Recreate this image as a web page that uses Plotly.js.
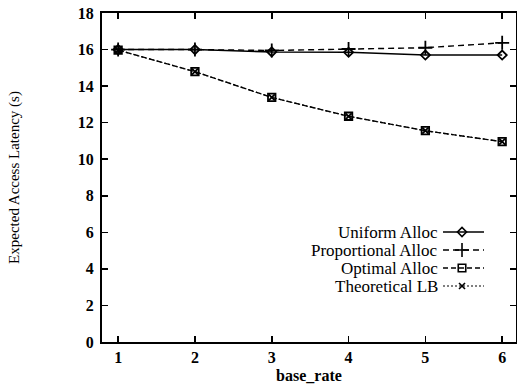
<!DOCTYPE html>
<html>
<head>
<meta charset="utf-8">
<script src="https://cdn.plot.ly/plotly-3.0.1.min.js"></script>
<style>html,body{margin:0;padding:0;background:#fff;}#chart{width:517px;height:389px;}</style>
</head>
<body>
<div id="chart"></div>
<script>
const baseRate = [1, 2, 3, 4, 5, 6];
const uniformAlloc = [16.0, 16.0, 15.87, 15.85, 15.7, 15.7];
const proportionalAlloc = [16.0, 16.0, 15.95, 16.03, 16.1, 16.37];
const optimalAlloc = [15.97, 14.79, 13.38, 12.35, 11.56, 10.96];
const theoreticalLB = [15.97, 14.79, 13.38, 12.35, 11.56, 10.96];
const seriesNames = ["Uniform Alloc", "Proportional Alloc", "Optimal Alloc", "Theoretical LB"];
const yTicks = [0, 2, 4, 6, 8, 10, 12, 14, 16, 18];

const serif = "Liberation Serif, Times New Roman, serif";
const styles = [
  {symbol: "diamond-open", size: 7, dash: "solid", width: 1.6},
  {symbol: "cross-thin-open", size: 10, dash: "6px,4px", width: 1.4},
  {symbol: "square-open", size: 7.5, dash: "5px,3px", width: 1.4},
  {symbol: "x-thin-open", size: 6, dash: "2px,2px", width: 1.2}
];
const series = [uniformAlloc, proportionalAlloc, optimalAlloc, theoreticalLB];

const traces = series.map((ys, i) => ({
  x: baseRate, y: ys, type: "scatter", mode: "lines+markers", name: seriesNames[i],
  line: {color: "black", width: styles[i].width, dash: styles[i].dash},
  marker: {symbol: styles[i].symbol, size: styles[i].size, color: "black",
           line: {color: "black", width: 1.8}},
  showlegend: false, cliponaxis: false
}));

// Legend samples (text on the left, sample on the right) on an overlay 0..1 axis pair
const legX0 = 0.8237, legX1 = 0.9227, legXm = 0.8696;
const legY = [0.3343, 0.2796, 0.2249, 0.1702];
const annotations = [];
series.forEach((ys, i) => {
  traces.push({
    x: [legX0, legX1], y: [legY[i], legY[i]], xaxis: "x2", yaxis: "y2",
    type: "scatter", mode: "lines", hoverinfo: "skip", showlegend: false,
    line: {color: "black", width: styles[i].width, dash: styles[i].dash}
  });
  traces.push({
    x: [legXm], y: [legY[i]], xaxis: "x2", yaxis: "y2",
    type: "scatter", mode: "markers", hoverinfo: "skip", showlegend: false,
    marker: {symbol: styles[i].symbol, size: styles[i].size, color: "black",
             line: {color: "black", width: 1.6}}
  });
  annotations.push({
    text: seriesNames[i], xref: "paper", yref: "paper", x: 0.8164, y: legY[i],
    xanchor: "right", yanchor: "middle", showarrow: false,
    font: {family: serif, size: 17, color: "black"}
  });
});

const axisCommon = {
  showline: true, linecolor: "black", linewidth: 2, mirror: "ticks",
  ticks: "inside", ticklen: 6, tickwidth: 1.5, tickcolor: "black",
  showgrid: false, zeroline: false,
  tickfont: {family: serif, size: 16, color: "black", weight: "bold"}
};

const layout = {
  width: 517, height: 389,
  margin: {l: 102, r: 1, t: 13, b: 47, pad: 0},
  paper_bgcolor: "white", plot_bgcolor: "white",
  showlegend: false,
  xaxis: Object.assign({}, axisCommon, {
    range: [0.79, 6.18], tickvals: baseRate, ticktext: baseRate.map(String),
    title: {text: "base_rate", font: {family: serif, size: 16, color: "black", weight: "bold"}, standoff: 5},
    automargin: false
  }),
  yaxis: Object.assign({}, axisCommon, {
    range: [0, 18], tickvals: yTicks, ticktext: yTicks.map(String), ticklabelstandoff: 3,
    title: {text: "Expected Access Latency (s)", font: {family: serif, size: 15, color: "black"}, standoff: 55},
    automargin: false
  }),
  xaxis2: {overlaying: "x", range: [0, 1], visible: false, fixedrange: true},
  yaxis2: {overlaying: "y", range: [0, 1], visible: false, fixedrange: true},
  annotations: annotations
};

Plotly.newPlot("chart", traces, layout, {displayModeBar: false, staticPlot: true});
</script>
</body>
</html>
